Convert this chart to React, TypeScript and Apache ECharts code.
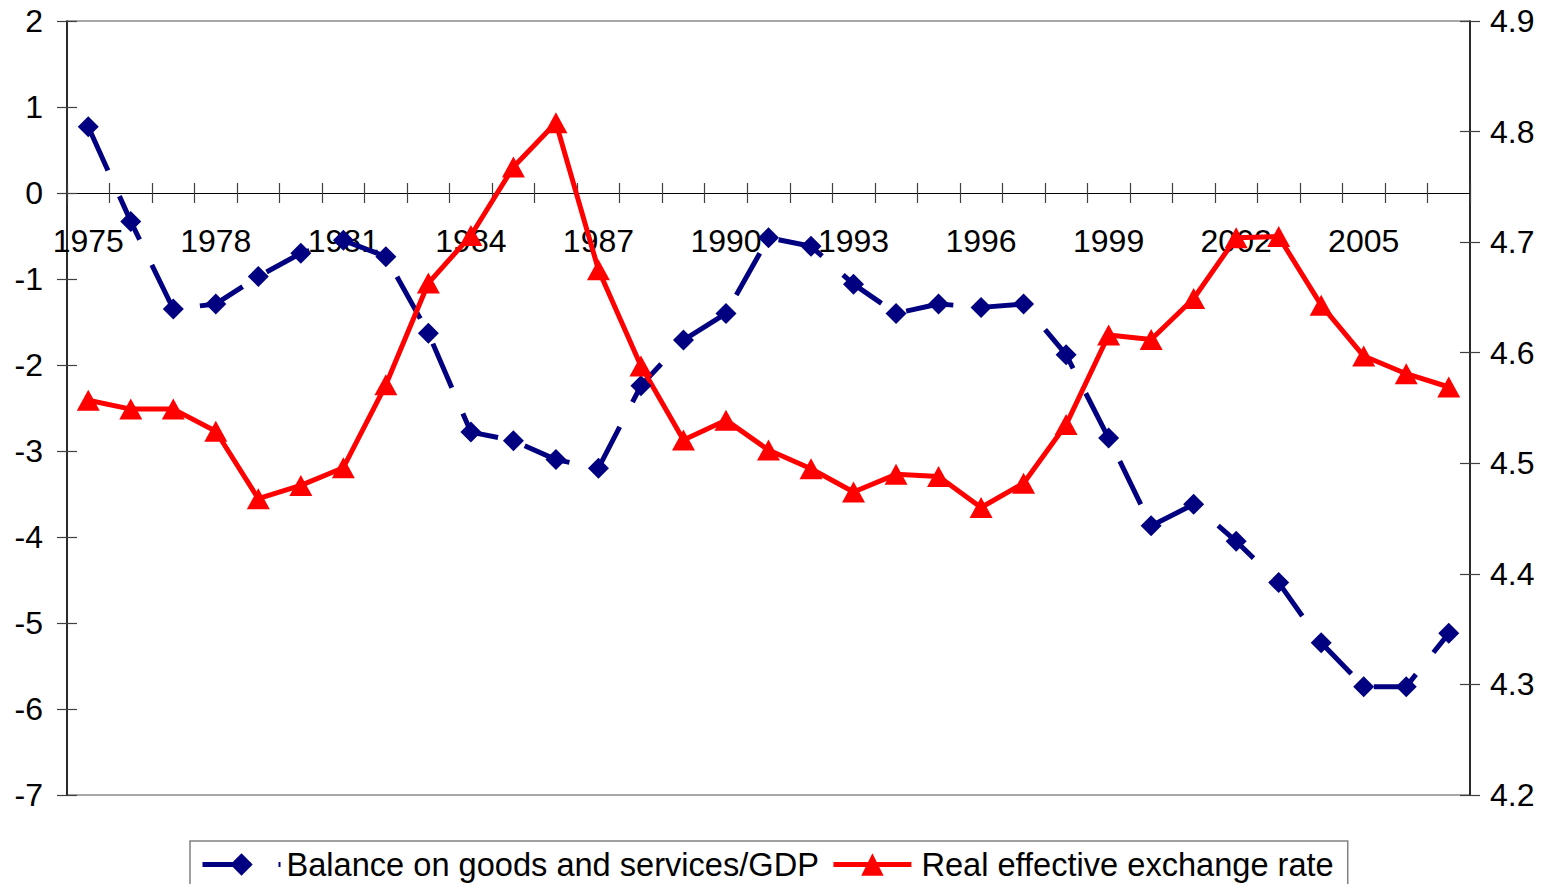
import React, { useEffect, useRef } from "react";
import * as echarts from "echarts";

const years: string[] = [
  "1975", "1976", "1977", "1978", "1979", "1980", "1981", "1982", "1983", "1984", "1985",
  "1986", "1987", "1988", "1989", "1990", "1991", "1992", "1993", "1994", "1995", "1996",
  "1997", "1998", "1999", "2000", "2001", "2002", "2003", "2004", "2005", "2006", "2007",
];

const balanceGdp: number[] = [
  0.77, -0.33, -1.35, -1.29, -0.97, -0.7, -0.55, -0.74, -1.63, -2.78, -2.88,
  -3.1, -3.2, -2.24, -1.71, -1.4, -0.52, -0.62, -1.06, -1.4, -1.29, -1.33,
  -1.29, -1.88, -2.85, -3.87, -3.62, -4.05, -4.53, -5.23, -5.74, -5.74, -5.12,
];

const reer: number[] = [
  4.557, 4.549, 4.549, 4.529, 4.468, 4.48, 4.496, 4.571, 4.663, 4.706, 4.768,
  4.808, 4.675, 4.588, 4.521, 4.539, 4.512, 4.495, 4.474, 4.49, 4.488, 4.46,
  4.482, 4.535, 4.616, 4.612, 4.649, 4.704, 4.705, 4.643, 4.597, 4.581, 4.569,
];

const seriesNames = ["Balance on goods and services/GDP", "Real effective exchange rate"];
const leftRange = { min: -7, max: 2, interval: 1 };
const rightRange = { min: 4.2, max: 4.9, interval: 0.1 };

const CHART_W = 1551;
const CHART_H = 940;

export default function App() {
  const ref = useRef<HTMLDivElement>(null);
  useEffect(() => {
    if (!ref.current) return;
    const chart = echarts.init(ref.current, undefined, { renderer: "svg" });
    const font = "'Liberation Sans', Arial, Helvetica, sans-serif";
    const labelStyle = { color: "#000", fontSize: 32, fontFamily: font };
    const axisLineStyle = { color: "#000", width: 1.5 };
    const tickStyle = { color: "#404040", width: 1.2 };
    chart.setOption({
      animation: false,
      textStyle: { fontFamily: font },
      grid: [
        {
          left: 67, right: 81, top: 21, bottom: CHART_H - 795,
          show: true, borderColor: "#8c8c8c", borderWidth: 1.5,
          outerBoundsMode: "none",
        },
        {
          left: 67, right: 81, top: 21, height: 172,
          show: false, outerBoundsMode: "none",
        },
      ],
      legend: {
        left: 190, top: 841,
        padding: [7, 14, 12, 10],
        itemWidth: 78, itemHeight: 28, itemGap: 12,
        borderColor: "#808080", borderWidth: 1.5,
        lineStyle: { width: 5 },
        textStyle: { color: "#000", fontSize: 32.6, fontFamily: font, padding: [0, 0, 0, 1] },
        data: [
          { name: seriesNames[0] },
          { name: seriesNames[1], textStyle: { padding: [0, 0, 0, 5] } },
        ],
      },
      xAxis: [
        {
          type: "category", data: years, boundaryGap: true, gridIndex: 0,
          axisLine: { show: true, onZero: true, onZeroAxisIndex: 0, lineStyle: { color: "#000", width: 1.2 } },
          axisTick: { show: true, interval: 0, length: 10, lineStyle: tickStyle },
          axisLabel: { show: false },
          splitLine: { show: false },
        },
        {
          type: "category", data: years, boundaryGap: true, position: "bottom", gridIndex: 0,
          axisLine: { show: false, onZero: true, onZeroAxisIndex: 0 },
          axisTick: { show: true, inside: true, interval: 0, length: 10, lineStyle: tickStyle },
          axisLabel: { show: false },
          splitLine: { show: false },
        },
        {
          type: "category", data: years, boundaryGap: true, position: "bottom", gridIndex: 1,
          axisLine: { show: false, onZero: false },
          axisTick: { show: false },
          axisLabel: { ...labelStyle, interval: 2, margin: 32 },
          splitLine: { show: false },
        },
      ],
      yAxis: [
        {
          type: "value", position: "left", gridIndex: 0, ...leftRange,
          axisLine: { show: true, onZero: false, lineStyle: axisLineStyle },
          axisTick: { show: true, length: 10, lineStyle: tickStyle },
          axisLabel: { ...labelStyle, margin: 24 },
          splitLine: { show: false },
        },
        {
          type: "value", position: "right", gridIndex: 0, ...rightRange,
          axisLine: { show: true, onZero: false, lineStyle: axisLineStyle },
          axisTick: { show: true, length: 10, lineStyle: tickStyle },
          axisLabel: { ...labelStyle, margin: 20, formatter: (v: number) => v.toFixed(1) },
          splitLine: { show: false },
        },
        {
          type: "value", position: "left", gridIndex: 0, ...leftRange,
          axisLine: { show: false, onZero: false },
          axisTick: { show: true, inside: true, length: 10, lineStyle: tickStyle },
          axisLabel: { show: false },
          splitLine: { show: false },
        },
        {
          type: "value", position: "right", gridIndex: 0, ...rightRange,
          axisLine: { show: false, onZero: false },
          axisTick: { show: true, inside: true, length: 10, lineStyle: tickStyle },
          axisLabel: { show: false },
          splitLine: { show: false },
        },
        {
          type: "value", gridIndex: 1, show: false, min: 0, max: 1,
        },
      ],
      series: [
        {
          name: seriesNames[0], type: "line", xAxisIndex: 0, yAxisIndex: 0,
          data: balanceGdp,
          symbol: "diamond", symbolSize: 21,
          lineStyle: { color: "#000080", width: 5, type: [48, 28], cap: "butt" },
          itemStyle: { color: "#000080" },
        },
        {
          name: seriesNames[1], type: "line", xAxisIndex: 0, yAxisIndex: 1,
          data: reer,
          symbol: "triangle", symbolSize: [23, 21],
          lineStyle: { color: "#ff0000", width: 5 },
          itemStyle: { color: "#ff0000" },
        },
      ],
    });
    return () => chart.dispose();
  }, []);
  return (
    <div
      ref={ref}
      style={{ position: "fixed", left: 0, top: 0, width: CHART_W, height: CHART_H, background: "#fff" }}
    />
  );
}
